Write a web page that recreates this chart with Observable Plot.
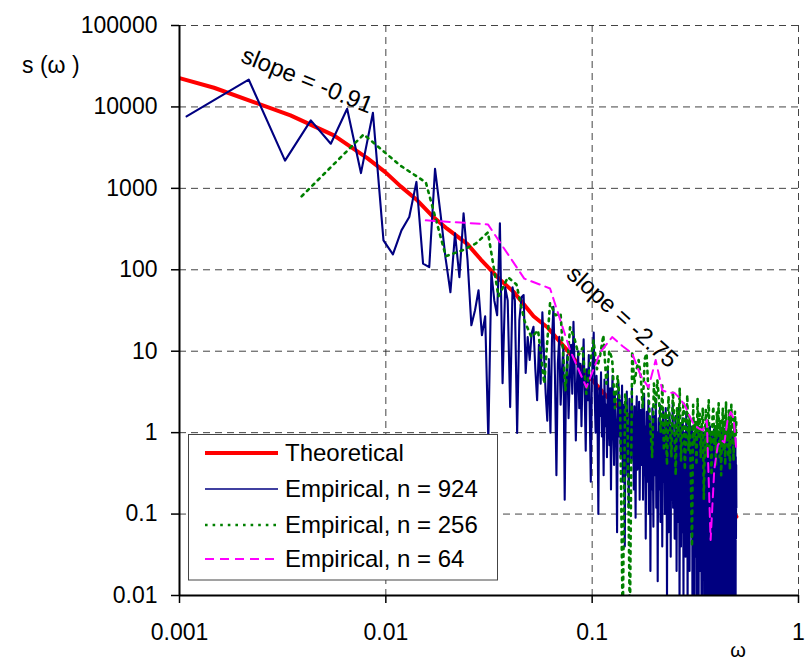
<!DOCTYPE html>
<html><head><meta charset="utf-8">
<script src="https://cdn.jsdelivr.net/npm/d3@7"></script>
<script src="https://cdn.jsdelivr.net/npm/@observablehq/plot@0.6"></script>
<style>body{margin:0;background:#fff}#chart svg{display:block}</style>
</head><body><div id="chart"></div>
<script>
// ---- data ----
const xTickValues = [0.001, 0.01, 0.1, 1];
const xTickLabels = ["0.001", "0.01", "0.1", "1"];
const yTickValues = [0.01, 0.1, 1, 10, 100, 1000, 10000, 100000];
const yTickLabels = ["0.01", "0.1", "1", "10", "100", "1000", "10000", "100000"];
const seriesNames = ["Theoretical", "Empirical, n = 924", "Empirical, n = 256", "Empirical, n = 64"];
const sampleSizes = [924, 256, 64];
const slopeLabels = ["slope = -0.91", "slope = -2.75"];
const yLabel = "s (\u03C9 )";
const xLabel = "\u03C9";

const theoryFreq = [0.001, 0.00147, 0.00229, 0.00345, 0.0056, 0.00813, 0.00997, 0.0118, 0.0142, 0.017,
  0.0198, 0.0248, 0.0288, 0.036, 0.0417, 0.052, 0.0606, 0.0757, 0.0879, 0.0982,
  0.118, 0.159, 0.185, 0.215, 0.335, 0.469, 0.5];
const theoryS = [22560, 17200, 11450, 7865, 4470, 2353, 1572, 1058, 713, 444,
  320, 208, 134.5, 74.3, 53.4, 26.9, 19.7, 10.3, 6.42, 4.67,
  2.75, 1.42, 0.856, 0.50, 0.208, 0.112, 0.093];

const emp924 = [
  7640, 21700, 2190, 6830, 3530, 9500, 1540, 8490, 230, 155,
  305, 445, 1200, 119, 108, 1740, 493, 138, 53, 281,
  81, 493, 131, 20.8, 31.8, 56, 15.7, 26.9, 0.81, 93,
  42, 27.7, 372, 4.05, 61, 42, 2.06, 61, 42, 0.99,
  24, 46, 49, 5.4, 14.9, 7.8, 16.6,
  20, 6, 2.5, 12, 4, 30, 9, 3, 1.4, 8,
  1.0, 14, 35, 5, 0.3, 7, 15, 2.2, 6, 11,
  0.15, 4, 9, 1.5, 5, 12, 3, 23, 6, 0.8,
  4, 10, 2, 7, 1.2, 5, 14, 3, 0.6, 6,
  2.5, 9, 1.5, 0.25, 4, 8, 17, 3, 1.0, 5,
  2, 0.1, 3.5,
  1.6, 5.5, 0.9, 2.8, 0.3, 4.5, 1.2, 2.2, 0.5, 6.5,
  1.8, 0.7, 3.5, 0.2, 2.4, 5, 1.1, 0.4, 3, 1.5,
  0.8, 0.06, 2, 4, 0.9,
  2.5, 0.5, 1.3, 3.8, 0.25, 1.0, 2.2, 0.04, 1.6, 0.7,
  3.2, 0.3, 1.2, 0.12, 2.6, 0.9, 1.8, 0.45, 3.5, 0.6,
  1.4, 0.2, 2.1, 0.8, 0.09, 1.5, 2.8, 0.35, 1.1, 0.55,
  2.4, 0.15, 1.0, 1.9, 0.4,
  0.9, 2.2, 0.15, 0.6, 3.0, 0.3, 1.2, 0.05, 0.7, 1.8,
  0.25, 0.45, 2.5, 0.1, 0.8, 1.4, 0.02, 0.5, 1.1, 0.2,
  2.0, 0.35, 0.07, 0.9, 1.6, 0.3, 0.6, 2.6, 0.12, 0.4,
  1.0, 0.015, 0.7, 1.5, 0.2, 0.5, 2.2, 0.08, 0.9, 0.3,
  1.3, 0.04, 0.6, 1.8, 0.25, 0.45, 1.1, 0.1, 0.8, 2.0,
  0.18, 0.5, 0.008, 0.7, 1.4, 0.3, 0.06, 0.9, 1.7, 0.22,
  0.55, 0.03, 1.2, 0.4, 0.15, 0.85, 2.3, 0.12, 0.6, 0.35,
  0.9, 0.05, 0.4, 1.6, 0.15, 0.6, 0.02, 0.3, 1.1, 0.08,
  0.5, 2.0, 0.12, 0.35, 0.007, 0.7, 0.25, 1.3, 0.04, 0.45,
  0.18, 0.9, 0.06, 1.5, 0.3, 0.01, 0.55, 0.2, 1.0, 0.1,
  0.65, 0.03, 0.4, 1.8, 0.14, 0.28, 0.8, 0.005, 0.5, 1.2,
  0.09, 0.35, 0.7, 0.02, 1.4, 0.22, 0.45, 0.06, 0.9, 0.16,
  0.6, 1.2, 0.004, 0.3, 0.75, 0.12, 0.5, 0.006, 1.0, 0.25,
  0.4, 0.03, 1.1, 0.18, 0.6, 0.005, 0.85, 0.35, 0.11, 1.3,
  0.28, 0.5, 0.004, 0.7, 0.2, 1.1, 0.02, 0.42, 0.9, 0.13,
  0.32, 1.2, 0.008, 0.55, 0.2, 0.004, 0.8, 0.38, 1.0, 0.05,
  0.45, 0.16, 0.7, 0.006, 1.0, 0.3, 0.6, 0.03, 1.2, 0.22,
  0.5, 0.004, 0.8, 0.2, 1.1, 0.03, 0.35, 0.6, 0.005, 0.45,
  0.9, 0.1, 0.3, 1.2, 0.006, 0.55, 0.22, 0.004, 0.7, 0.28,
  1.0, 0.05, 0.4, 0.65, 0.005, 0.25, 0.85, 0.02, 0.5, 1.1,
  0.007, 0.32, 0.75, 0.18, 0.004, 0.6, 1.0, 0.04, 0.4, 0.09,
  0.55, 1.2, 0.01, 0.35, 0.003, 0.8, 0.27, 0.5, 0.006, 1.0,
  0.16, 0.45, 0.7, 0.004, 0.3, 0.9, 0.03, 0.6, 0.24, 1.1,
  0.005, 0.38, 0.65, 0.05, 0.9, 0.004, 0.5, 0.2, 1.2, 0.01,
  0.3, 0.7, 0.006, 0.55, 0.025, 1.0, 0.26, 0.004, 0.07, 0.85,
  0.13, 1.1, 0.35, 0.005, 0.6, 0.2, 0.9, 0.003, 0.45, 0.75,
  0.02, 0.32, 1.0, 0.006, 0.52, 0.04, 0.7, 0.28, 0.004, 0.95,
  0.4, 0.01, 0.65, 1.1, 0.005, 0.3, 0.8, 0.04, 0.5, 0.004,
  0.9, 0.15, 0.006, 1.0, 0.08, 0.55, 0.003, 0.25, 0.7, 0.33,
  1.1, 0.005, 0.45, 0.6, 0.02, 0.22, 0.85, 0.004, 0.5, 0.05,
  0.4, 0.12
];

const emp256 = [
  798, 4600, 1915, 1185, 147, 173, 211, 288, 47, 81,
  66, 24, 14.9, 18, 4.0, 39, 27.7, 29, 3.3, 19.7,
  14.4, 9, 11, 3, 7, 13.6, 6, 9, 15.7, 4,
  10.2, 8, 2, 5, 2, 0.004, 3, 1.5, 0.004, 10,
  4, 6, 7.8, 5, 2, 8, 9.4, 3, 1.2, 0.5,
  4, 2, 4.4, 2.5, 1.0, 3.8, 0.6, 1.8, 0.4, 2.8,
  1.2, 0.5, 3.2, 1.5, 0.3, 2.0, 0.9, 3.5, 0.45, 1.3,
  2.4, 0.35, 1.0, 2.9, 0.6, 1.6, 0.3, 0.04, 2.2, 0.7,
  1.4, 0.4, 2.6, 0.9, 1.7, 0.5, 1.2, 2.0, 0.15, 0.8,
  1.9, 0.5, 1.3, 2.5, 0.6, 1.0, 0.3, 1.5, 2.1, 0.7,
  1.2, 0.4, 1.8, 0.9, 2.3, 0.5, 1.4, 0.3, 1.1, 2.0,
  0.6, 1.6, 0.4, 2.4, 0.8, 1.3, 0.5, 1.9, 0.35, 1.0,
  2.2, 0.7, 1.5, 0.45, 1.2, 1.8, 0.9, 1.4
];

const emp64 = [
  405, 361, 78, 59, 10.3, 3.6, 9.7, 14.9, 11.5, 9.4,
  5, 3.6, 7.8, 3.3, 3.1, 3.1, 2.65, 2.17, 1.59, 1.24,
  1.13, 1.07, 1.42, 0.048, 0.35, 0.70, 0.81, 0.76, 1.42, 1.79,
  1.51, 0.61
];

// ---- build tables ----
const theoryRows = theoryFreq.map((f, i) => ({x: f, y: theoryS[i]}));
const toRows = (vals, n) => vals.map((v, i) => ({x: (i + 1) / n, y: v}));
const rows924 = toRows(emp924, sampleSizes[0]);
const rows256 = toRows(emp256, sampleSizes[1]);
const rows64 = toRows(emp64, sampleSizes[2]);

const colors = ["#ff0000", "#000080", "#008000", "#ff00ff"];
const widths = [4, 2.1, 2.6, 2];
const dashes = [null, null, "2.6,5", "9,6"];

const font = "'Liberation Sans', Arial, Helvetica, sans-serif";
const gridStyle = {stroke: "#222", strokeWidth: 1, strokeDasharray: "7,5", strokeOpacity: 0.85};

const annotations = [
  {text: slopeLabels[0], x: 0.00416, y: 21100, angle: 22},
  {text: slopeLabels[1], x: 0.14, y: 26.4, angle: 42}
];

const chart = Plot.plot({
  width: 811,
  height: 663,
  marginLeft: 179,
  marginRight: 13,
  marginTop: 25,
  marginBottom: 68,
  style: {fontFamily: font, fontSize: "23px", color: "#000", background: "#fff", overflow: "visible"},
  x: {type: "log", domain: [0.001, 1], label: null},
  y: {type: "log", domain: [0.01, 100000], label: null},
  marks: [
    Plot.ruleX(xTickValues.slice(1), gridStyle),
    Plot.ruleY(yTickValues.slice(1), gridStyle),
    Plot.line(theoryRows, {x: "x", y: "y", stroke: colors[0], strokeWidth: widths[0], clip: true}),
    Plot.line(rows924, {x: "x", y: "y", stroke: colors[1], strokeWidth: widths[1], clip: true}),
    Plot.line(rows256, {x: "x", y: "y", stroke: colors[2], strokeWidth: widths[2], strokeDasharray: dashes[2], clip: true}),
    Plot.line(rows64, {x: "x", y: "y", stroke: colors[3], strokeWidth: widths[3], strokeDasharray: dashes[3], clip: true}),
    Plot.ruleX([xTickValues[0]], {stroke: "#000", strokeWidth: 2}),
    Plot.ruleY([yTickValues[0]], {stroke: "#000", strokeWidth: 2}),
    Plot.axisX(xTickValues, {anchor: "bottom", tickSize: 8, tickPadding: 20, strokeWidth: 1.5,
      tickFormat: d => xTickLabels[xTickValues.indexOf(d)], fontSize: 23, label: null}),
    Plot.axisY(yTickValues, {anchor: "left", tickSize: 8, tickPadding: 14, strokeWidth: 1.5,
      tickFormat: d => yTickLabels[yTickValues.indexOf(d)], fontSize: 23, label: null}),
    Plot.text(annotations, {x: "x", y: "y", text: "text", rotate: "angle", fontSize: 24, fill: "#000"})
  ]
});

document.getElementById("chart").appendChild(chart);

// ---- axis titles and legend ----
const svg = d3.select(chart);
svg.append("text").attr("x", 22).attr("y", 73).attr("text-anchor", "start").attr("font-family", font)
  .attr("font-size", 23).attr("fill", "#000").text(yLabel);
svg.append("text").attr("x", 738).attr("y", 657).attr("text-anchor", "middle").attr("font-family", font)
  .attr("font-size", 20).attr("fill", "#000").text(xLabel);

const lg = svg.append("g");
lg.append("rect").attr("x", 188.5).attr("y", 434.5).attr("width", 309).attr("height", 145.5)
  .attr("fill", "#fff").attr("stroke", "#444").attr("stroke-width", 1);
const rowY = [453, 489, 525, 559];
seriesNames.forEach((name, i) => {
  const l = lg.append("line").attr("x1", 205).attr("x2", 278).attr("y1", rowY[i]).attr("y2", rowY[i])
    .attr("stroke", colors[i]).attr("stroke-width", i === 1 ? 1.6 : widths[i]);
  if (dashes[i]) l.attr("stroke-dasharray", dashes[i]);
  lg.append("text").attr("x", 285).attr("y", rowY[i] + 8).attr("text-anchor", "start")
    .attr("font-family", font).attr("font-size", 24).attr("fill", "#000").text(name);
});
</script>
</body></html>
